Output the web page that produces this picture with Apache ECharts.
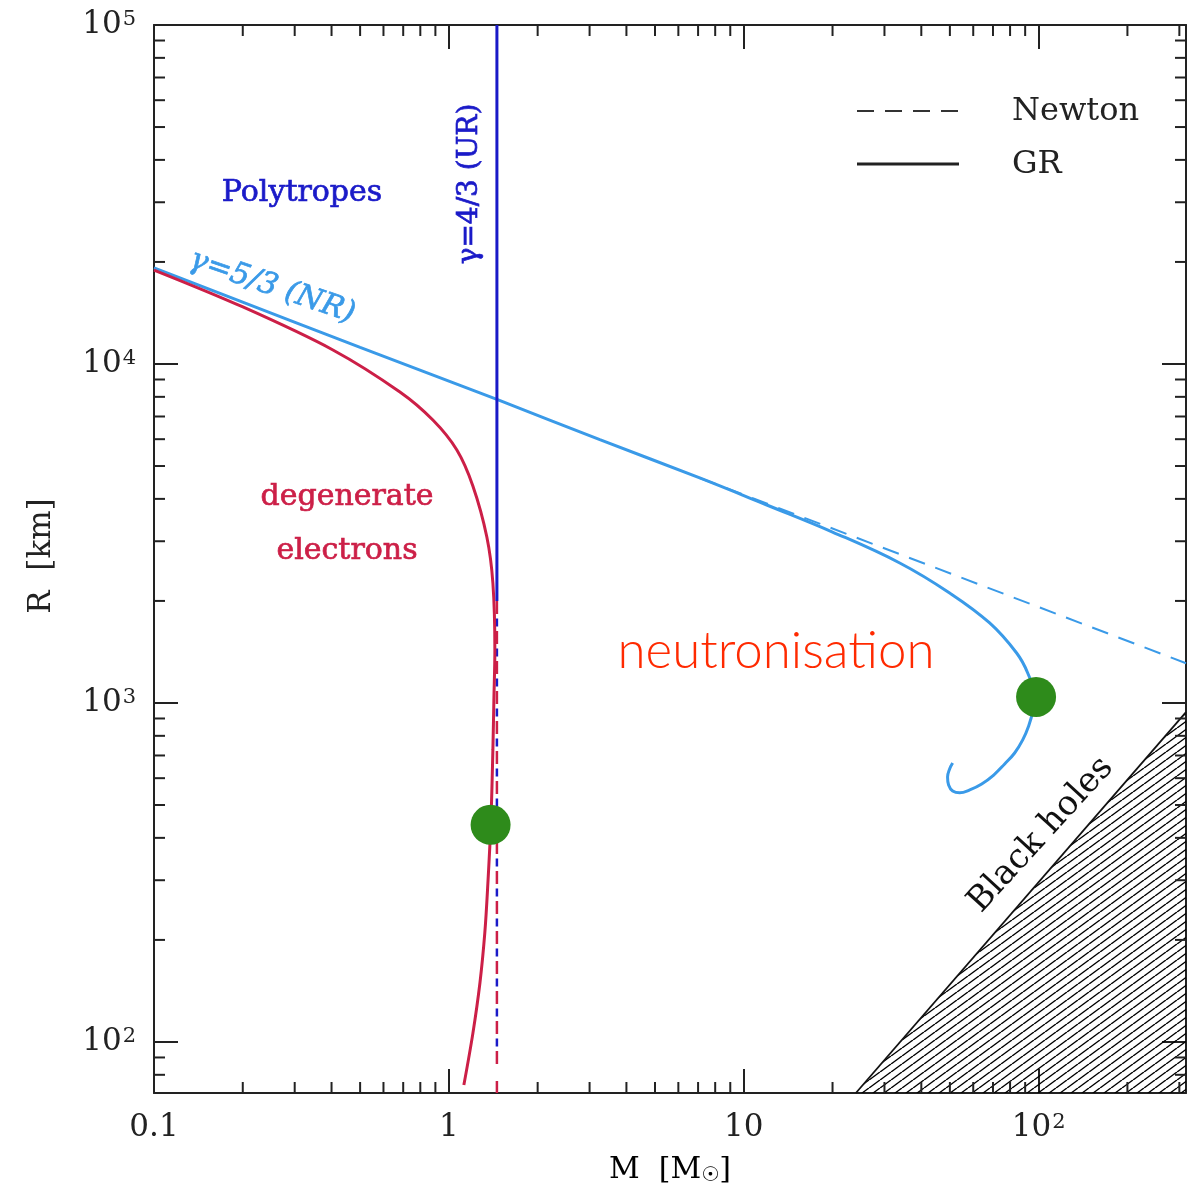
<!DOCTYPE html>
<html>
<head>
<meta charset="utf-8">
<script src="https://cdn.jsdelivr.net/npm/echarts@6/dist/echarts.min.js"></script>
<style>
  html, body { margin: 0; padding: 0; background: #ffffff; }
  #chart { width: 1203px; height: 1200px; }
</style>
</head>
<body>
<div id="chart"></div>
<script>
// ---- axis ranges: mass in solar masses, radius in km ----
const massRange = [0.1, 316];
const radiusRange = [70.7, 100000];

const xMajorTicks = [0.1, 1, 10, 100];
const xTickLabels = ['0.1', '1', '10', '10{s|2}'];
const yMajorTicks = [100, 1000, 10000, 100000];
const yTickLabels = ['10{s|2}', '10{s|3}', '10{s|4}', '10{s|5}'];
const xMinorTicks = [0.2, 0.3, 0.4, 0.5, 0.6, 0.7, 0.8, 0.9,
                     2, 3, 4, 5, 6, 7, 8, 9,
                     20, 30, 40, 50, 60, 70, 80, 90, 200, 300];
const yMinorTicks = [80, 90, 200, 300, 400, 500, 600, 700, 800, 900,
                     2000, 3000, 4000, 5000, 6000, 7000, 8000, 9000,
                     20000, 30000, 40000, 50000, 60000, 70000, 80000, 90000];

// ---- curves: [mass, radius] ----
// gamma = 5/3 (non-relativistic) polytrope, general relativity
const nrGR = [[0.1, 19200], [0.5, 11200], [1.455, 7860], [3.25, 5980], [7.09, 4611],
              [11.97, 3837], [20.0, 3194], [33.8, 2588], [49.9, 2111], [68.2, 1722],
              [84.2, 1404], [91.8, 1226], [96.9, 1042], [95.4, 941], [92.5, 855],
              [88.3, 778], [82.9, 712], [76.7, 661], [70.4, 613], [64.1, 577],
              [58.4, 554], [54.0, 543], [51.1, 550], [49.5, 573], [49.1, 605],
              [49.9, 639], [51.1, 665]];
// gamma = 5/3 polytrope, Newtonian
const nrNewton = [[7.09, 4611], [316, 1310]];
// gamma = 4/3 (ultra-relativistic) polytrope
const urGR = [[1.455, 100000], [1.455, 2000]];
const urNewton = [[1.455, 2000], [1.455, 85]];
// degenerate electron gas
const electronsGR = [[0.1, 18930], [0.2002, 14730], [0.4044, 11000], [0.6823, 8268],
                     [0.8826, 6834], [1.0644, 5576], [1.206, 4367], [1.345, 3088],
                     [1.41, 2259], [1.432, 1433], [1.421, 1021], [1.41, 727], [1.388, 443],
                     [1.356, 294], [1.324, 210], [1.274, 149], [1.206, 106], [1.124, 74.6]];
const electronsNewton = [[1.455, 2000], [1.455, 70.7]];
// Schwarzschild limit bounding the black-hole region
const blackHoleEdge = [[24, 70.7], [316, 940]];
// highlighted configurations
const markers = [[1.385, 437], [98, 1042]];

const serif = "'DejaVu Serif', serif";
const axisColor = '#222222';
const lightBlue = '#3a9ae8';
const darkBlue = '#1a1ac8';
const crimson = '#cc1f47';

// diagonal hatch tile for the black-hole region
function hatchTile() {
  const w = 11, h = 8;
  const c = document.createElement('canvas');
  c.width = w; c.height = h;
  const g = c.getContext('2d');
  g.strokeStyle = '#000000';
  g.lineWidth = 1.4;
  for (let k = 0; k <= 2; k++) {
    g.beginPath();
    g.moveTo(-w + k * w, h);
    g.lineTo(k * w, 0);
    g.stroke();
  }
  return c;
}

function labelFor(list, labels) {
  return function (v) {
    const i = list.findIndex(t => Math.abs(t - v) / t < 1e-6);
    return i < 0 ? '' : labels[i];
  };
}

const supRich = { s: { fontSize: 21, fontFamily: serif, color: axisColor, verticalAlign: 'top', padding: [0, 0, 0, 1] } };

function minorTicks(kind) {
  return function (params, api) {
    const v = api.value(kind === 'x' ? 0 : 1);
    const st = { stroke: axisColor, lineWidth: 2 };
    const L = 11;
    if (kind === 'x') {
      const b = api.coord([v, radiusRange[0]]);
      const t = api.coord([v, radiusRange[1]]);
      return { type: 'group', children: [
        { type: 'line', shape: { x1: b[0], y1: b[1], x2: b[0], y2: b[1] - L }, style: st },
        { type: 'line', shape: { x1: t[0], y1: t[1], x2: t[0], y2: t[1] + L }, style: st }
      ] };
    }
    const l = api.coord([massRange[0], v]);
    const r = api.coord([massRange[1], v]);
    return { type: 'group', children: [
      { type: 'line', shape: { x1: l[0], y1: l[1], x2: l[0] + L, y2: l[1] }, style: st },
      { type: 'line', shape: { x1: r[0], y1: r[1], x2: r[0] - L, y2: r[1] }, style: st }
    ] };
  };
}

const axisBase = {
  type: 'log', logBase: 10,
  axisLine: { show: true, lineStyle: { color: axisColor, width: 2 } },
  axisTick: { show: true, inside: true, length: 24, lineStyle: { color: axisColor, width: 2 } },
  splitLine: { show: false },
  minorTick: { show: false }
};

// text helper for annotations drawn in pixel space
function note(text, x, y, opts) {
  const o = opts || {};
  return {
    type: 'text', x: x, y: y, rotation: o.rotation || 0,
    style: {
      text: text, fontSize: o.size || 30, fontFamily: o.family || serif,
      fontStyle: o.italic ? 'italic' : 'normal', fontWeight: o.weight || 'normal',
      fill: o.color || '#222222', stroke: o.heavy ? (o.color || '#222222') : null,
      lineWidth: o.heavy ? 0.7 : 0,
      align: o.align || 'center', verticalAlign: 'middle'
    }
  };
}

const chart = echarts.init(document.getElementById('chart'), null, { renderer: 'canvas' });

chart.setOption({
  animation: false,
  backgroundColor: '#ffffff',
  grid: { left: 154, top: 25, width: 1032, height: 1068 },
  xAxis: [
    Object.assign({}, axisBase, {
      position: 'bottom', min: massRange[0], max: massRange[1],
      axisLabel: { show: true, margin: 19, fontSize: 31, fontFamily: serif, color: axisColor,
                   formatter: labelFor(xMajorTicks, xTickLabels), rich: supRich,
                   showMinLabel: true, showMaxLabel: true }
    }),
    Object.assign({}, axisBase, {
      position: 'top', min: massRange[0], max: massRange[1],
      axisLabel: { show: false }
    })
  ],
  yAxis: [
    Object.assign({}, axisBase, {
      position: 'left', min: radiusRange[0], max: radiusRange[1],
      axisLabel: { show: true, margin: 18, fontSize: 31, fontFamily: serif, color: axisColor,
                   formatter: labelFor(yMajorTicks, yTickLabels), rich: supRich,
                   showMinLabel: true, showMaxLabel: true }
    }),
    Object.assign({}, axisBase, {
      position: 'right', min: radiusRange[0], max: radiusRange[1],
      axisLabel: { show: false }
    })
  ],
  series: [
    {
      name: 'black holes', type: 'line', data: blackHoleEdge, showSymbol: false,
      lineStyle: { color: '#111111', width: 1.8 },
      areaStyle: { origin: 'start', color: { image: hatchTile(), repeat: 'repeat' }, opacity: 1 },
      z: 1
    },
    {
      name: 'x minor ticks', type: 'custom', clip: false, silent: true,
      data: xMinorTicks.map(v => [v, radiusRange[1]]), renderItem: minorTicks('x'), z: 5
    },
    {
      name: 'y minor ticks', type: 'custom', clip: false, silent: true,
      data: yMinorTicks.map(v => [massRange[0], v]), renderItem: minorTicks('y'), z: 5
    },
    {
      name: 'NR Newton', type: 'line', data: nrNewton, showSymbol: false,
      lineStyle: { color: lightBlue, width: 2, type: [17, 11] }, z: 2
    },
    {
      name: 'electrons Newton', type: 'line', data: electronsNewton, showSymbol: false,
      lineStyle: { color: crimson, width: 2.5, type: [13, 17] }, z: 2
    },
    {
      name: 'UR Newton', type: 'line', data: urNewton, showSymbol: false,
      lineStyle: { color: darkBlue, width: 2.5, type: [8, 22], dashOffset: 12.5 }, z: 2
    },
    {
      name: 'NR GR', type: 'line', data: nrGR, showSymbol: false, smooth: 0.4,
      lineStyle: { color: lightBlue, width: 3 }, z: 3
    },
    {
      name: 'electrons GR', type: 'line', data: electronsGR, showSymbol: false, smooth: 0.33,
      lineStyle: { color: crimson, width: 3 }, z: 3
    },
    {
      name: 'UR GR', type: 'line', data: urGR, showSymbol: false,
      lineStyle: { color: darkBlue, width: 3 }, z: 4
    },
    {
      name: 'markers', type: 'scatter', data: markers, symbol: 'circle', symbolSize: 40,
      itemStyle: { color: '#2e8b1b', opacity: 1 }, z: 6
    }
  ],
  graphic: [
    // legend
    { type: 'line', shape: { x1: 857, y1: 111, x2: 959, y2: 111 },
      style: { stroke: '#333333', lineWidth: 2, lineDash: [17, 11] } },
    { type: 'line', shape: { x1: 857, y1: 164, x2: 959, y2: 164 },
      style: { stroke: '#222222', lineWidth: 3 } },
    note('Newton', 1012, 112, { size: 32, align: 'left' }),
    note('GR', 1012, 165, { size: 32, align: 'left' }),
    // annotations
    note('Polytropes', 302, 193, { color: darkBlue, heavy: true }),
    note('γ=5/3 (NR)', 272, 287, { color: lightBlue, italic: true, rotation: -0.33, heavy: true }),
    note('γ=4/3 (UR)', 470, 184, { color: darkBlue, size: 28, rotation: Math.PI / 2, heavy: true }),
    note('degenerate', 347, 497, { color: crimson, heavy: true }),
    note('electrons', 347, 551, { color: crimson, heavy: true }),
    note('neutronisation', 776, 652, { color: '#ff2a00', size: 51, weight: 300, family: "Lato, 'Open Sans', sans-serif" }),
    note('Black holes', 1041, 835, { color: '#111111', size: 34, rotation: 0.83 }),
    // axis titles
    { type: 'text', x: 670, y: 1170, style: { text: '{a|M  [M}{b|☉}{a|]}', align: 'center', verticalAlign: 'middle',
        rich: { a: { fontSize: 30, fontFamily: serif, color: '#222222' },
                b: { fontSize: 20, fontFamily: "'DejaVu Sans', serif", color: '#222222', verticalAlign: 'bottom', padding: [12, 0, 0, 0] } } } },
    note('R  [km]', 42, 556, { size: 31, rotation: Math.PI / 2 })
  ]
});
</script>
</body>
</html>
